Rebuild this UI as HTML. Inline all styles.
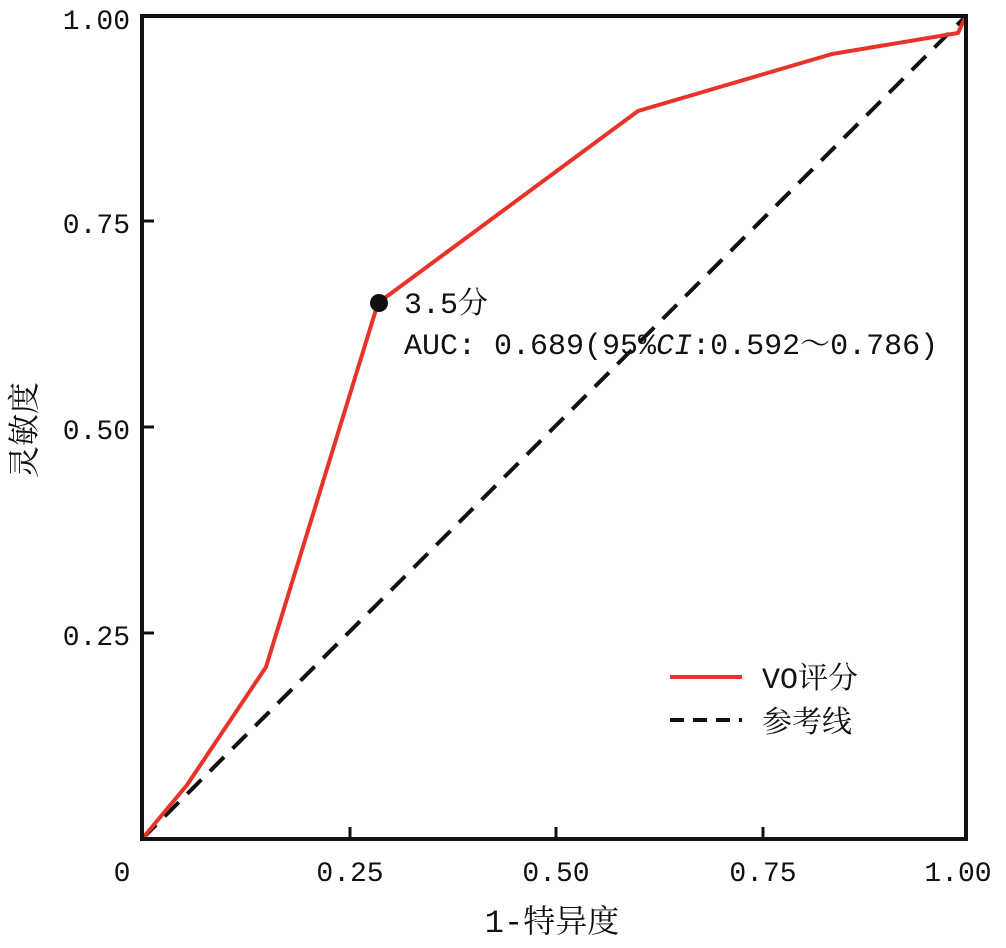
<!DOCTYPE html>
<html><head><meta charset="utf-8"><style>
body{margin:0;background:#fff;}
svg text{font-family:"Liberation Mono","Noto Serif CJK SC",monospace;fill:#111;}
</style></head><body>
<svg width="1006" height="943" viewBox="0 0 1006 943" xmlns="http://www.w3.org/2000/svg">
<rect x="0" y="0" width="1006" height="943" fill="#fff"/>
<line x1="142" y1="839" x2="966" y2="16" stroke="#111" stroke-width="4" stroke-dasharray="20,12"/>
<polyline points="142,839 187,785 266,667 378,303 638,111 832,54 958,33 966,16" fill="none" stroke="#e8332a" stroke-width="4" stroke-linejoin="round"/>
<circle cx="379" cy="303" r="9" fill="#111"/>
<rect x="142" y="16" width="824" height="823" fill="none" stroke="#111" stroke-width="4"/>
<g stroke="#111" stroke-width="3">
<line x1="350" y1="839" x2="350" y2="827"/><line x1="556" y1="839" x2="556" y2="827"/><line x1="763" y1="839" x2="763" y2="827"/>
<line x1="142" y1="221" x2="154" y2="221"/><line x1="142" y1="427" x2="154" y2="427"/><line x1="142" y1="633" x2="154" y2="633"/>
</g>
<g font-size="28" text-anchor="end">
<text x="130" y="29">1.00</text><text x="130" y="233">0.75</text><text x="130" y="439">0.50</text><text x="130" y="645">0.25</text>
</g>
<g font-size="28" text-anchor="middle">
<text x="122" y="881">0</text><text x="350" y="881">0.25</text><text x="556" y="881">0.50</text><text x="763" y="881">0.75</text><text x="958" y="881">1.00</text>
</g>
<text x="552" y="932" font-size="32" text-anchor="middle">1-特异度</text>
<text transform="translate(35,430) rotate(-90)" font-size="32" text-anchor="middle">灵敏度</text>
<text x="404" y="313" font-size="30">3.5分</text>
<text x="404" y="354" font-size="30">AUC: 0.689(95%<tspan font-style="italic">CI</tspan>:0.592～0.786)</text>
<line x1="670" y1="677" x2="742" y2="677" stroke="#e8332a" stroke-width="4"/>
<line x1="670" y1="720" x2="742" y2="720" stroke="#111" stroke-width="4" stroke-dasharray="14,9"/>
<text x="762" y="688" font-size="30">VO评分</text>
<text x="762" y="732" font-size="30">参考线</text>
</svg>
</body></html>
